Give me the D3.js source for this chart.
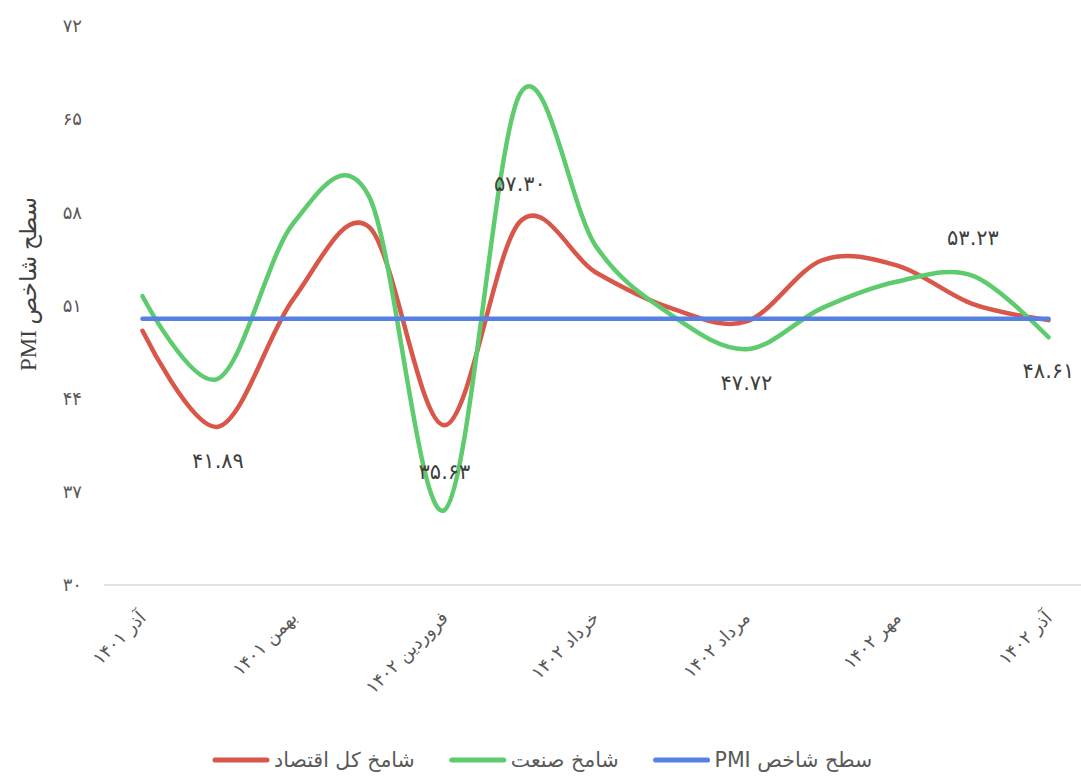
<!DOCTYPE html>
<meta charset="utf-8">
<title>PMI</title>
<style>
	body { margin: 0; background: #fff; }
	svg { display: block; }
	.tick text { fill: #595959; font-family: "DejaVu Sans", sans-serif; font-size: 18px; }
</style>
<body>
<div id="chart"></div>
<script src="https://d3js.org/d3.v7.min.js"></script>
<script>
// ----- données -----
var months = ["آذر ۱۴۰۱", "دی ۱۴۰۱", "بهمن ۱۴۰۱", "اسفند ۱۴۰۱", "فروردین ۱۴۰۲", "اردیبهشت ۱۴۰۲",
	"خرداد ۱۴۰۲", "تیر ۱۴۰۲", "مرداد ۱۴۰۲", "شهریور ۱۴۰۲", "مهر ۱۴۰۲", "آبان ۱۴۰۲", "آذر ۱۴۰۲"];
var economy = [49.1, 41.89, 51.5, 56.9, 42.0, 57.30, 53.5, 50.8, 49.8, 54.4, 54.0, 51.1, 49.9];
var industry = [51.7, 45.5, 57.2, 59.2, 35.63, 66.9, 55.5, 50.3, 47.72, 50.8, 52.8, 53.23, 48.61];
var pmiLevel = [50, 50, 50, 50, 50, 50, 50, 50, 50, 50, 50, 50, 50];
var yTicks = [30, 37, 44, 51, 58, 65, 72];
var seriesNames = ["شامخ کل اقتصاد", "شامخ صنعت", "سطح شاخص PMI"];
var yTitle = "سطح شاخص PMI";
// étiquettes de données : série, indice, côté
var dataLabels = [
	{ s: 0, i: 1, pos: "below" },
	{ s: 1, i: 4, pos: "above" },
	{ s: 0, i: 5, pos: "above" },
	{ s: 1, i: 8, pos: "below" },
	{ s: 1, i: 11, pos: "above" },
	{ s: 1, i: 12, pos: "below" }
];

var width = 1081, height = 779;
var colors = ["#d9574a", "#5ecb6e", "#5680e3"];
var allSeries = [economy, industry, pmiLevel];

// chiffres persans
function fa(v) {
	return String(v).replace(/[0-9]/g, function (c) { return "۰۱۲۳۴۵۶۷۸۹"[+c]; });
}
var rle = "\u202B", pdf = "\u202C";

var svg = d3.select("#chart").append("svg")
	.attr("width", width)
	.attr("height", height);

var x = d3.scalePoint()
	.domain(d3.range(months.length))
	.range([142.5, 1048.5]);

var y = d3.scaleLinear()
	.domain([30, 72])
	.range([585, 26]);

// axe Y
svg.append("g")
	.attr("transform", "translate(104,0)")
	.call(d3.axisLeft(y).tickValues(yTicks).tickSize(0).tickPadding(22).tickFormat(fa))
	.call(function (g) { g.select(".domain").remove(); });

// axe X
var xAxis = svg.append("g")
	.attr("transform", "translate(0,585)")
	.call(d3.axisBottom(x).tickSize(0).tickFormat(function (i) { return i % 2 === 0 ? months[i] : ""; }));
xAxis.select(".domain")
	.attr("d", "M104,0H1090")
	.attr("stroke", "#d9d9d9")
	.attr("stroke-width", 1.5);
xAxis.selectAll(".tick text")
	.attr("text-anchor", "end")
	.attr("dy", null)
	.attr("y", null)
	.attr("transform", "translate(4,34) rotate(-45)");

// titre Y
svg.append("text")
	.attr("transform", "translate(36,284) rotate(-90)")
	.attr("text-anchor", "middle")
	.attr("fill", "#404040")
	.style("font-family", "'Liberation Serif', 'DejaVu Sans', serif")
	.style("font-size", "23px")
	.text(rle + yTitle + pdf);

// courbes
var line = d3.line()
	.x(function (d, i) { return x(i); })
	.y(function (d) { return y(d); })
	.curve(d3.curveCatmullRom.alpha(0));

svg.selectAll(".serie")
	.data(allSeries)
	.enter().append("path")
	.attr("class", "serie")
	.attr("fill", "none")
	.attr("stroke", function (d, k) { return colors[k]; })
	.attr("stroke-width", 4.5)
	.attr("stroke-linecap", "round")
	.attr("stroke-linejoin", "round")
	.attr("d", line);

// étiquettes
svg.selectAll(".etiquette")
	.data(dataLabels)
	.enter().append("text")
	.attr("class", "etiquette")
	.attr("x", function (d) { return x(d.i); })
	.attr("y", function (d) {
		var v = allSeries[d.s][d.i];
		return y(v) + (d.pos === "above" ? -38 : 34);
	})
	.attr("text-anchor", "middle")
	.attr("dominant-baseline", "central")
	.attr("fill", "#404040")
	.style("font-family", "'DejaVu Sans', sans-serif")
	.style("font-size", "21px")
	.text(function (d) { return fa(allSeries[d.s][d.i].toFixed(2)); });

// légende
var legend = svg.append("g").attr("transform", "translate(0,760)");
var lx = 212;
seriesNames.forEach(function (name, k) {
	legend.append("line")
		.attr("x1", lx + 3).attr("x2", lx + 55)
		.attr("y1", 0).attr("y2", 0)
		.attr("stroke", colors[k])
		.attr("stroke-width", 5)
		.attr("stroke-linecap", "round");
	var t = legend.append("text")
		.attr("x", lx + 62)
		.attr("y", 0)
		.attr("dominant-baseline", "central")
		.attr("fill", "#595959")
		.style("font-family", "'DejaVu Sans', sans-serif")
		.style("font-size", "20.5px")
		.text(rle + name + pdf);
	lx = lx + 62 + t.node().getComputedTextLength() + 34;
});
</script>
</body>
